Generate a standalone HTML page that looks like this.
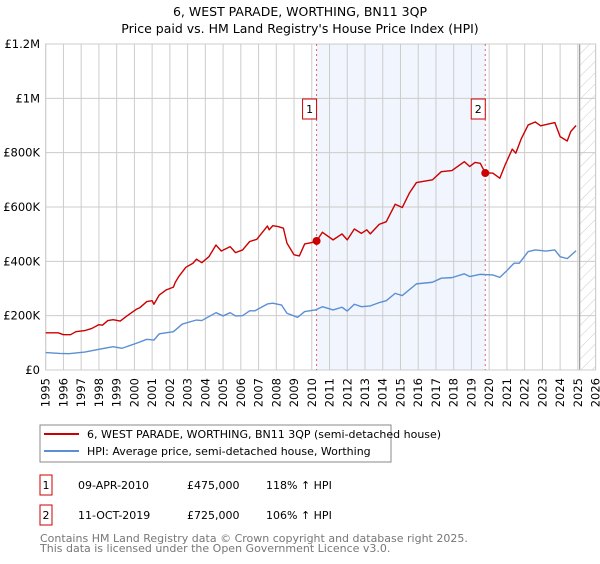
<!DOCTYPE html>
<html><head><meta charset="utf-8"><style>
body{margin:0;background:#fff;font-family:"DejaVu Sans","Liberation Sans",sans-serif;}
svg text{font-family:"DejaVu Sans","Liberation Sans",sans-serif;}
</style></head><body>
<svg id="chart" width="600" height="560" xmlns="http://www.w3.org/2000/svg">
<defs><pattern id="hatch" width="8" height="8" patternUnits="userSpaceOnUse" patternTransform="rotate(45)"><line x1="0" y1="0" x2="0" y2="8" stroke="#ccc" stroke-width="1"/></pattern></defs>
<text x="300" y="16" text-anchor="middle" font-size="12.5">6, WEST PARADE, WORTHING, BN11 3QP</text>
<text x="300" y="33" text-anchor="middle" font-size="12.5">Price paid vs. HM Land Registry's House Price Index (HPI)</text>
<g id="grid"></g>
<g id="marks"></g>
<g id="axes"></g>
<g>
<rect x="40" y="425" width="351" height="37" fill="#fff" stroke="#888"/>
<line x1="44" y1="434" x2="79" y2="434" stroke="#cc0000" stroke-width="2"/>
<text x="87" y="438" font-size="11">6, WEST PARADE, WORTHING, BN11 3QP (semi-detached house)</text>
<line x1="44" y1="451" x2="79" y2="451" stroke="#5b8fd4" stroke-width="2"/>
<text x="87" y="455" font-size="11">HPI: Average price, semi-detached house, Worthing</text>
</g>
<g>
<rect x="40" y="475" width="12" height="20" fill="#fff" stroke="#cc0000"/>
<text x="46" y="489" font-size="11" text-anchor="middle">1</text>
<text x="78" y="489" font-size="11">09-APR-2010</text>
<text x="187" y="489" font-size="11">£475,000</text>
<text x="266" y="489" font-size="11">118% ↑ HPI</text>
<rect x="40" y="505" width="12" height="20" fill="#fff" stroke="#cc0000"/>
<text x="46" y="519" font-size="11" text-anchor="middle">2</text>
<text x="78" y="519" font-size="11">11-OCT-2019</text>
<text x="187" y="519" font-size="11">£725,000</text>
<text x="266" y="519" font-size="11">106% ↑ HPI</text>
</g>
<text x="40" y="542" font-size="11" fill="#777">Contains HM Land Registry data © Crown copyright and database right 2025.</text>
<text x="40" y="552" font-size="11" fill="#777">This data is licensed under the Open Government Licence v3.0.</text>
</svg>
<script>
const propYears=[1995,1995.7,1996,1996.4,1996.7,1997.2,1997.6,1998,1998.2,1998.5,1998.8,1999.2,1999.6,2000.1,2000.3,2000.7,2001,2001.1,2001.4,2001.8,2002.2,2002.3,2002.5,2002.9,2003.3,2003.5,2003.8,2004.2,2004.6,2004.9,2005.4,2005.7,2006.1,2006.5,2006.9,2007.5,2007.6,2007.8,2008.1,2008.4,2008.6,2009,2009.3,2009.6,2010,2010.27,2010.6,2011.2,2011.7,2012,2012.4,2012.8,2013.1,2013.3,2013.8,2014.2,2014.7,2015.1,2015.5,2015.9,2016.8,2017.3,2017.9,2018.6,2018.9,2019.2,2019.5,2019.78,2020.2,2020.6,2020.9,2021.3,2021.5,2021.8,2022.2,2022.6,2022.9,2023.7,2024,2024.4,2024.6,2024.9];
const propValues=[137,137,130,130,141,145,153,167,165,182,185,180,200,223,229,252,255,242,276,295,305,322,344,378,393,408,395,417,460,438,454,432,442,473,481,530,516,531,528,522,467,424,420,464,469,475,507,479,501,479,519,503,516,501,536,546,610,598,651,690,700,730,734,767,749,764,761,725,725,706,755,813,798,850,902,913,899,911,859,843,878,900];
const hpiYears=[1995,1995.8,1996.3,1997.2,1998,1998.8,1999.3,2000.1,2000.7,2001.1,2001.4,2002.2,2002.7,2003.5,2003.8,2004.6,2005,2005.4,2005.7,2006.1,2006.5,2006.8,2007.5,2007.8,2008.3,2008.6,2009.2,2009.6,2010.2,2010.6,2011.2,2011.7,2012,2012.4,2012.8,2013.3,2013.8,2014.2,2014.7,2015.1,2015.9,2016.8,2017.3,2017.9,2018.6,2018.9,2019.5,2020.2,2020.6,2021,2021.4,2021.7,2022.2,2022.6,2023.2,2023.7,2024,2024.4,2024.9];
const hpiValues=[64,61,60,66,76,86,80,98,113,110,133,141,169,184,182,211,199,211,199,200,218,218,243,246,239,209,194,215,221,233,221,231,217,242,233,236,248,255,282,274,317,323,338,340,354,344,352,350,341,366,393,393,436,442,438,442,417,410,439];
const saleYears=[2010.27,2019.78];
const saleValues=[475,725];
const saleLabels=["1","2"];
const yTicks=[0,200,400,600,800,1000,1200];
const yTickLabels=["£0","£200K","£400K","£600K","£800K","£1M","£1.2M"];
const xTicks=[1995,1996,1997,1998,1999,2000,2001,2002,2003,2004,2005,2006,2007,2008,2009,2010,2011,2012,2013,2014,2015,2016,2017,2018,2019,2020,2021,2022,2023,2024,2025,2026];
const dataEnd=2025.1;

const X0=45.7,X1=595.6,Y0=370,Y1=44;
const xs=y=>X0+(y-1995)/(2026-1995)*(X1-X0);
const ys=v=>Y0-v/1200*(Y0-Y1);
const NS="http://www.w3.org/2000/svg";
function mk(tag,attrs,parent){const e=document.createElementNS(NS,tag);for(const k in attrs)e.setAttribute(k,attrs[k]);parent.appendChild(e);return e;}
const grid=document.getElementById('grid'),marks=document.getElementById('marks'),axes=document.getElementById('axes');
let r=mk('rect',{x:xs(saleYears[0]),y:Y1,width:xs(saleYears[1])-xs(saleYears[0]),height:Y0-Y1,fill:'#eef2fc',opacity:0.8},grid);


let h=mk('rect',{x:xs(dataEnd),y:Y1,width:X1-xs(dataEnd),height:Y0-Y1,fill:'url(#hatch)'},grid);


yTicks.forEach((t,i)=>{
  const l=mk('line',{x1:X0,x2:X1,y1:ys(t),y2:ys(t),stroke:'#ccc','stroke-width':1},grid);
  
  
  const tx=mk('text',{x:40,y:ys(t)+4,'text-anchor':'end','font-size':11.5},axes);
  tx.textContent=yTickLabels[i];
  
  
});
xTicks.forEach(t=>{
  const l=mk('line',{x1:xs(t),x2:xs(t),y1:Y1,y2:Y0,stroke:'#ccc','stroke-width':1},grid);
  
  
  const px=xs(t)+4,py=378;
  const tx=mk('text',{x:px,y:py,'text-anchor':'end','font-size':11.5,transform:'rotate(-90 '+px+' '+py+')'},axes);
  tx.textContent=t;
  
  
});
const end=mk('line',{x1:xs(dataEnd),x2:xs(dataEnd),y1:Y1,y2:Y0,stroke:'#999','stroke-width':1.2},grid);


const fr=mk('rect',{x:X0,y:Y1,width:X1-X0,height:Y0-Y1,fill:'none',stroke:'#ccc'},grid);


saleYears.forEach((y,i)=>{
  const l=mk('line',{x1:xs(y),x2:xs(y),y1:Y1,y2:Y0,stroke:'#e06070','stroke-width':1,'stroke-dasharray':'2,3'},marks);
  
  
});
function line(xa,va,color,name){
  const p=mk('polyline',{points:xa.map((x,i)=>xs(x)+','+ys(va[i])).join(' '),fill:'none',stroke:color,'stroke-width':1.4,'stroke-linejoin':'round'},marks);
  
  
}
line(hpiYears,hpiValues,'#5b8fd4','hpi-line');
line(propYears,propValues,'#cc0000','property-price-line');
saleYears.forEach((y,i)=>{
  const c=mk('circle',{cx:xs(y),cy:ys(saleValues[i]),r:4,fill:'#cc0000'},marks);
  
  
  const b=mk('rect',{x:xs(y)-14,y:99,width:14,height:20,fill:'#fff',stroke:'#cc0000'},marks);
  
  
  const t=mk('text',{x:xs(y)-7,y:113,'text-anchor':'middle','font-size':11},marks);
  t.textContent=saleLabels[i];
  
  
});
</script>
</body></html>
